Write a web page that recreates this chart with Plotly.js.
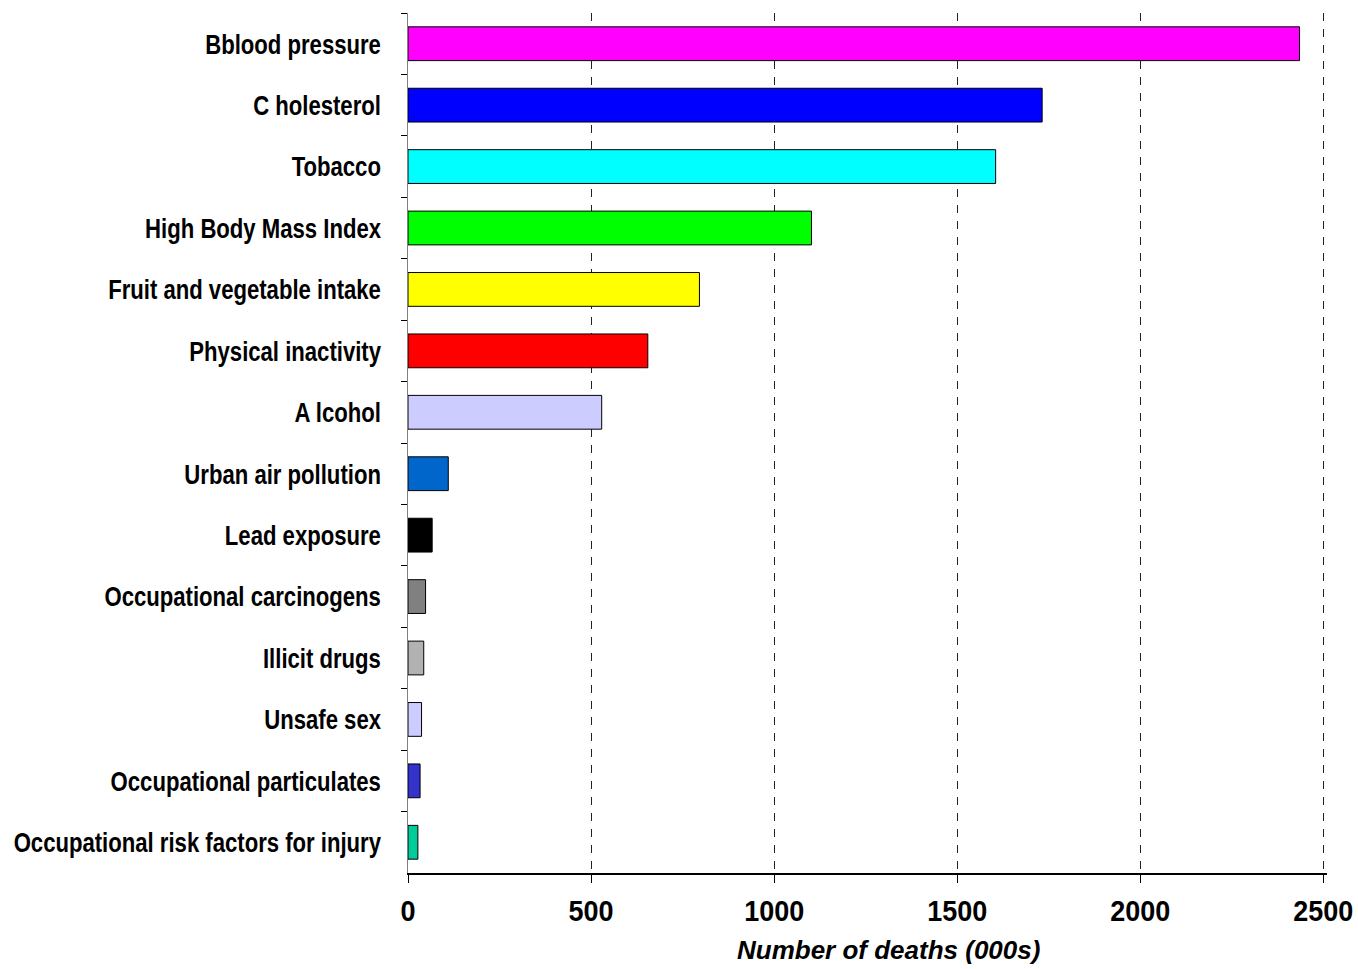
<!DOCTYPE html>
<html>
<head>
<meta charset="utf-8">
<script src="https://cdn.plot.ly/plotly-3.0.1.min.js"></script>
<style>html,body{margin:0;padding:0;background:#fff;}#chart{width:1358px;height:969px;}</style>
</head>
<body>
<div id="chart"></div>
<script>
var categories = [
  "Bblood pressure",
  "C holesterol",
  "Tobacco",
  "High Body Mass Index",
  "Fruit and vegetable intake",
  "Physical inactivity",
  "A lcohol",
  "Urban air pollution",
  "Lead exposure",
  "Occupational carcinogens",
  "Illicit drugs",
  "Unsafe sex",
  "Occupational particulates",
  "Occupational risk factors for injury"
];
var deaths = [2435, 1732, 1605, 1102, 796, 655, 529, 110, 66, 48, 43, 37, 33, 27];
var barColors = ["#FF00FF", "#0000FF", "#00FFFF", "#00FF00", "#FFFF00", "#FF0000", "#CCCCFF",
                 "#0066CC", "#000000", "#808080", "#B2B2B2", "#CCCCFF", "#3333CC", "#00CC99"];
var xTicks = [0, 500, 1000, 1500, 2000, 2500];
var xTitle = "Number of deaths (000s)";

var FONT = "Liberation Sans, Arial, sans-serif";

var trace = {
  type: "bar",
  orientation: "h",
  x: deaths,
  y: categories,
  marker: {color: barColors, line: {color: "#000000", width: 1}},
  hoverinfo: "x+y"
};

var layout = {
  width: 1358,
  height: 969,
  margin: {l: 408, r: 31, t: 13, b: 96, pad: 0},
  paper_bgcolor: "#ffffff",
  plot_bgcolor: "#ffffff",
  bargap: 0.45,
  showlegend: false,
  font: {family: FONT, color: "#000000"},
  xaxis: {
    range: [0, 2510],
    tickvals: xTicks,
    ticktext: xTicks.map(String),
    showgrid: true,
    gridcolor: "#222222",
    gridwidth: 1,
    griddash: "8px,8px",
    zeroline: false,
    showline: true,
    linecolor: "#000000",
    linewidth: 2,
    ticks: "outside",
    ticklen: 8,
    tickcolor: "#000000",
    tickwidth: 1,
    ticklabelstandoff: 3,
    tickfont: {family: FONT, size: 29, weight: "bold", color: "#000000"},
    fixedrange: true
  },
  yaxis: {
    type: "category",
    autorange: "reversed",
    showgrid: false,
    zeroline: false,
    showline: true,
    linecolor: "#808080",
    linewidth: 1.5,
    ticks: "outside",
    tickson: "boundaries",
    ticklen: 6,
    tickcolor: "#000000",
    tickwidth: 1,
    ticklabelstandoff: 20,
    tickfont: {family: FONT, size: 28, weight: "bold", color: "#000000"},
    fixedrange: true
  },
  annotations: [{
    text: "<b><i>" + xTitle + "</i></b>",
    xref: "paper", yref: "paper",
    x: 0.523, y: -0.07,
    xanchor: "center", yanchor: "top",
    showarrow: false,
    font: {family: FONT, size: 26, color: "#000000"}
  }]
};

function squeeze(selector, s) {
  var nodes = document.querySelectorAll(selector);
  nodes.forEach(function (t) {
    var bb = t.getBBox();
    var anchor = t.getAttribute("text-anchor") || t.style.textAnchor || "start";
    var X = bb.x;
    if (anchor === "end") X = bb.x + bb.width;
    else if (anchor === "middle") X = bb.x + bb.width / 2;
    var existing = t.getAttribute("transform") || "";
    t.setAttribute("transform", existing + " translate(" + X + ",0) scale(" + s + ",1) translate(" + (-X) + ",0)");
  });
}

Plotly.newPlot("chart", [trace], layout, {displayModeBar: false, staticPlot: true}).then(function () {
  squeeze("#chart .ytick text", 0.79);
  squeeze("#chart .xtick text", 0.93);
});
</script>
</body>
</html>
